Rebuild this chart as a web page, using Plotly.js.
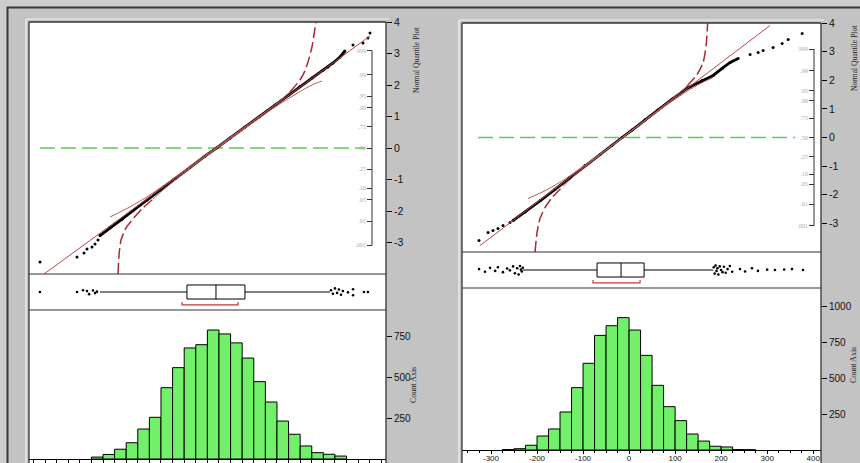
<!DOCTYPE html>
<html><head><meta charset="utf-8">
<script src="https://cdn.plot.ly/plotly-3.0.1.min.js"></script>
<style>html,body{margin:0;padding:0;background:#c3c3c3;}#chart{width:860px;height:463px;}</style>
</head><body><div id="chart"></div>
<script>
// ---------- LEFT PANEL DATA ----------
const leftBinCenters = [-52.5,-47.5,-42.5,-37.5,-32.5,-27.5,-22.5,-17.5,-12.5,-7.5,-2.5,2.5,7.5,12.5,17.5,22.5,27.5,32.5,37.5,42.5,47.5,52.5];
const leftCounts = [12,28,60,100,184,256,438,561,682,702,792,768,713,620,475,350,233,152,80,39,29,18];
const leftQQx = [-77.16,-61.21,-58.19,-56.90,-54.74,-53.45,-52.16,-51.29,-46.98,-41.81,-37.07,-31.03,-25.43,-18.97,-12.50,-6.03,-0.86,4.74,11.21,17.67,24.14,29.74,34.91,40.09,44.83,46.98,49.14,52.16,54.31,57.76,62.07,64.22,65.09];
const leftQQq = [-3.619,-3.460,-3.333,-3.206,-3.143,-3.048,-2.921,-2.78,-2.53,-2.26,-1.99,-1.65,-1.33,-0.97,-0.61,-0.26,0.01,0.32,0.67,1.01,1.36,1.67,1.95,2.22,2.47,2.571,2.698,2.889,3.079,3.270,3.333,3.492,3.651];
const leftFitX = [-75.4, 65.1];
const leftFitQ = [-4.0, 3.556];
const leftUpperBandX = [-46.98,-38.36,-29.74,-16.81,-1.29,13.36,24.14,30.60,34.91,37.07,38.36,40.09,41.38,41.81];
const leftUpperBandQ = [-2.19,-1.87,-1.49,-0.815,0.012,0.79,1.37,1.78,2.16,2.45,2.73,3.21,3.80,4.0];
const leftLowerBandX = [-43.53,-43.10,-42.24,-40.09,-37.07,-32.76,-28.45,-23.28,-12.50,-1.29,13.36,24.14,30.60,34.91,40.09,44.40];
const leftLowerBandQ = [-4.0,-3.397,-2.921,-2.540,-2.254,-1.90,-1.62,-1.28,-0.64,-0.03,0.74,1.30,1.60,1.79,2.00,2.127];
const leftRefX = [-77.2, 62.9];
const leftBox = {q1:-13.8, median:-1.3, q3:11.2, lo:-51.3, hi:47.8};
const leftShortestHalf = [-15.9, 8.2];
const leftOutX = [-77.2,-61.2,-58.6,-56.9,-56.0,-54.3,-53.4,-52.6,48.3,49.1,50.0,50.9,51.7,52.6,53.4,55.6,57.8,57.8,62.5,64.2];
const leftOutY = [0,0,0.1,0.05,-0.12,0.08,-0.06,0.02,0.1,-0.1,0.2,-0.05,0.14,-0.15,0.05,-0.02,0.15,-0.18,0,0];

// ---------- RIGHT PANEL DATA ----------
const rightBinCenters = [-262.5,-237.5,-212.5,-187.5,-162.5,-137.5,-112.5,-87.5,-62.5,-37.5,-12.5,12.5,37.5,62.5,87.5,112.5,137.5,162.5,187.5,212.5,237.5,262.5];
const rightCounts = [3,9,33,97,146,264,433,602,796,863,919,833,657,449,301,204,111,62,26,21,3,2];
const rightQQx = [-326.1,-306.5,-295.7,-284.8,-273.9,-258.7,-252.2,-226.1,-193.5,-160.9,-128.3,-95.7,-63.0,-37.0,-15.2,6.5,34.8,63.0,93.5,128.3,158.7,182.6,202.2,219.6,237.0,263.0,280.4,291.3,313.0,332.6,345.7,376.1];
const rightQQq = [-3.601,-3.322,-3.252,-3.182,-3.077,-2.972,-2.902,-2.60,-2.21,-1.81,-1.40,-0.98,-0.59,-0.27,0,0.26,0.62,0.97,1.34,1.74,1.993,2.168,2.413,2.622,2.762,2.902,2.972,3.042,3.147,3.287,3.427,3.636];
const rightFitX = [-323.9, 306.5];
const rightFitQ = [-3.776, 3.916];
const rightUpperBandX = [-219.6,-182.6,-143.5,-106.5,-63.0,-15.2,45.7,89.1,126.1,147.8,160.9,167.4,170.7];
const rightUpperBandQ = [-2.133,-1.86,-1.50,-1.09,-0.575,0.0,0.745,1.29,1.80,2.203,2.622,3.217,3.986];
const rightLowerBandX = [-204.3,-200.0,-193.5,-182.6,-167.4,-143.5,-106.5,-63.0,-15.2,45.7,89.1,126.1,154.3,182.6];
const rightLowerBandQ = [-4.0,-3.322,-2.832,-2.448,-2.098,-1.70,-1.16,-0.61,-0.02,0.72,1.22,1.62,1.88,2.098];
const rightRefX = [-328, 360.9];
const rightBox = {q1:-69.6, median:-17.4, q3:32.6, lo:-230.4, hi:182.6};
const rightShortestHalf = [-78.3, 23.9];
const rightOutX = [-326,-313,-302,-291,-285,-274,-265,-259,-252,-248,-243,-240,-237,-235,-233,-231,184,186,188,190,192,194,197,200,203,206,210,214,219,224,241,252,267,280,300,317,337,354,378];
const rightOutY = [0.05,-0.1,0.12,-0.05,0.15,-0.12,0.08,-0.02,0.2,-0.18,0.1,-0.25,0.22,0.02,-0.08,0.12,0.15,-0.2,0.25,-0.05,0.1,-0.25,0.2,0,-0.12,0.18,-0.15,0.05,0.22,-0.1,0.05,-0.08,0.1,-0.05,0.02,0,0.03,0.05,0];

// ---------- TICK LABELS ----------
const qqTickVals = [-3,-2,-1,0,1,2,3,4];
const qqTickText = ['-3','-2','-1','0','1','2','3','4'];
const probTickVals = [-3.09,-2.33,-1.64,-1.28,-0.67,0,0.67,1.28,1.64,2.33,3.09];
const probTickText = ['.001','.01','.05','.10','.25','.50','.75','.90','.95','.99','.999'];
const leftCountTicks = [250,500,750];
const rightCountTicks = [250,500,750,1000];
const rightXTickVals = [-300,-200,-100,0,100,200,300,400];
const rightXTickText = ['-300','-200','-100','0','100','200','300','400'];

// ---------- LAYOUT HELPERS ----------
const W = 860, H = 463;
const px = v => v / W;
const py = v => 1 - v / H;
const SANS = 'Liberation Sans, Arial, sans-serif';
const SERIF = 'Liberation Serif, Times New Roman, serif';
const RED = '#a82a36';
const THINRED = '#b85858';
const GREEN = '#5ccc5c';

function lineTrace(x, y, xa, ya, color, w, dash) {
  return {type:'scatter', mode:'lines', x:x, y:y, xaxis:xa, yaxis:ya,
    line:{color:color, width:w, dash:dash || 'solid', shape:'spline', smoothing:0.6}, hoverinfo:'skip'};
}

function panel(p) {
  const t = [];
  t.push({type:'scatter', mode:'lines', x:p.refX, y:[0,0], xaxis:p.xa, yaxis:p.ya,
    line:{color:GREEN, width:1.3, dash:'15px,6px'}, hoverinfo:'skip'});
  t.push({type:'scatter', mode:'lines', x:p.qqx.slice(p.d0,p.d1), y:p.qqq.slice(p.d0,p.d1), xaxis:p.xa, yaxis:p.ya,
    line:{color:'#000', width:2.8}, hoverinfo:'skip'});
  t.push({type:'scatter', mode:'markers', x:p.qqx, y:p.qqq, xaxis:p.xa, yaxis:p.ya,
    marker:{color:'#000', size:3}, hoverinfo:'skip'});
  t.push({type:'scatter', mode:'lines', x:p.fitX, y:p.fitQ, xaxis:p.xa, yaxis:p.ya,
    line:{color:'#b84848', width:1}, hoverinfo:'skip'});
  t.push(lineTrace(p.ubX.slice(0,p.ubS+1), p.ubQ.slice(0,p.ubS+1), p.xa, p.ya, THINRED, 1));
  t.push(lineTrace(p.ubX.slice(p.ubS), p.ubQ.slice(p.ubS), p.xa, p.ya, RED, 1.5, '11px,4px'));
  t.push(lineTrace(p.lbX.slice(0,p.lbS+1), p.lbQ.slice(0,p.lbS+1), p.xa, p.ya, RED, 1.5, '11px,4px'));
  t.push(lineTrace(p.lbX.slice(p.lbS), p.lbQ.slice(p.lbS), p.xa, p.ya, THINRED, 1));
  t.push({type:'scatter', mode:'markers', x:[p.refX[0]], y:[0], xaxis:p.xa, yaxis:p.yp,
    marker:{opacity:0}, hoverinfo:'skip'});
  t.push({type:'box', orientation:'h', y:[0], q1:[p.box.q1], median:[p.box.median], q3:[p.box.q3],
    lowerfence:[p.box.lo], upperfence:[p.box.hi], xaxis:p.xb, yaxis:p.yb, boxpoints:false,
    fillcolor:'#ffffff', line:{color:'#000', width:1}, whiskerwidth:0, width:0.78, hoverinfo:'skip'});
  t.push({type:'scatter', mode:'markers', x:p.outX, y:p.outY, xaxis:p.xb, yaxis:p.yb,
    marker:{color:'#000', size:2.6}, hoverinfo:'skip'});
  t.push({type:'scatter', mode:'lines', x:[p.sh[0],p.sh[0],p.sh[1],p.sh[1]], y:[-0.55,-0.72,-0.72,-0.55],
    xaxis:p.xb, yaxis:p.yb, line:{color:'#c03a3a', width:1.2}, hoverinfo:'skip'});
  t.push({type:'bar', x:p.bins, y:p.counts, width:p.bw, xaxis:p.xh, yaxis:p.yh,
    marker:{color:'#72f06a', line:{color:'#000', width:1}}, hoverinfo:'skip'});
  return t;
}

const traces = [].concat(
  panel({xa:'x', ya:'y', yp:'y7', xb:'x2', yb:'y2', xh:'x3', yh:'y3',
    refX:leftRefX, qqx:leftQQx, qqq:leftQQq, d0:7, d1:29, fitX:leftFitX, fitQ:leftFitQ,
    ubX:leftUpperBandX, ubQ:leftUpperBandQ, ubS:7, lbX:leftLowerBandX, lbQ:leftLowerBandQ, lbS:6,
    box:leftBox, outX:leftOutX, outY:leftOutY, sh:leftShortestHalf,
    bins:leftBinCenters, counts:leftCounts, bw:5}),
  panel({xa:'x4', ya:'y4', yp:'y8', xb:'x5', yb:'y5', xh:'x6', yh:'y6',
    refX:rightRefX, qqx:rightQQx, qqq:rightQQq, d0:6, d1:25, fitX:rightFitX, fitQ:rightFitQ,
    ubX:rightUpperBandX, ubQ:rightUpperBandQ, ubS:8, lbX:rightLowerBandX, lbQ:rightLowerBandQ, lbS:5,
    box:rightBox, outX:rightOutX, outY:rightOutY, sh:rightShortestHalf,
    bins:rightBinCenters, counts:rightCounts, bw:25})
);

const tickFont = {family:SANS, size:10.5, color:'#111'};
const hidden = {visible:false, showgrid:false, zeroline:false, fixedrange:true};
function qqY(domain, anchor) {
  return {domain:domain, range:[-4,4], anchor:anchor, side:'right', ticks:'outside', ticklen:5,
    tickcolor:'#000', tickwidth:1, tickvals:qqTickVals, ticktext:qqTickText, tickfont:tickFont,
    showgrid:false, zeroline:false, showline:false};
}
function probY(over, pos) {
  return {overlaying:over, anchor:'free', position:pos, side:'left', range:[-4,4], ticks:'outside',
    ticklen:5, tickcolor:'#333', tickwidth:1, tickvals:probTickVals, ticktext:probTickText,
    tickfont:{family:SERIF, size:5.8, color:'#a8a8a8'}, showgrid:false, zeroline:false, showline:false};
}
function cntY(domain, anchor, range, vals) {
  return {domain:domain, range:range, anchor:anchor, side:'right', ticks:'outside', ticklen:5,
    tickcolor:'#000', tickvals:vals, tickfont:{family:SANS, size:10, color:'#111'},
    showgrid:false, zeroline:false, showline:false};
}

const LX = [px(29), px(386)], RX = [px(462), px(821)];
const layout = {
  width:W, height:H, margin:{l:0,r:0,t:0,b:0}, showlegend:false,
  paper_bgcolor:'#c3c3c3', plot_bgcolor:'rgba(0,0,0,0)', bargap:0,
  xaxis: Object.assign({}, hidden, {domain:LX, range:[-81.9,72], anchor:'y'}),
  yaxis: qqY([py(274), py(22)], 'x'),
  yaxis7: probY('y', px(372)),
  xaxis2: Object.assign({}, hidden, {domain:LX, matches:'x', anchor:'y2'}),
  yaxis2: Object.assign({}, hidden, {domain:[py(310), py(274)], range:[-1,1], anchor:'x2'}),
  xaxis3: {domain:LX, matches:'x', anchor:'y3', showline:true, linecolor:'#000', linewidth:1,
    ticks:'outside', ticklen:5, tickcolor:'#000', tick0:0, dtick:20, showticklabels:false,
    minor:{ticks:'outside', ticklen:3, dtick:5, tick0:0, tickcolor:'#000'}, showgrid:false, zeroline:false},
  yaxis3: cntY([py(459), py(310)], 'x3', [0,915], leftCountTicks),
  xaxis4: Object.assign({}, hidden, {domain:RX, range:[-363,417], anchor:'y4'}),
  yaxis4: qqY([py(252), py(23)], 'x4'),
  yaxis8: probY('y4', px(814)),
  xaxis5: Object.assign({}, hidden, {domain:RX, matches:'x4', anchor:'y5'}),
  yaxis5: Object.assign({}, hidden, {domain:[py(288), py(252)], range:[-1,1], anchor:'x5'}),
  xaxis6: {domain:RX, matches:'x4', anchor:'y6', showline:true, linecolor:'#000', linewidth:1,
    ticks:'outside', ticklen:3, tickcolor:'#000', tickvals:rightXTickVals, ticktext:rightXTickText,
    ticklabelstandoff:-3,
    tickfont:{family:SANS, size:8, color:'#111'},
    minor:{ticks:'outside', ticklen:2, dtick:25, tick0:0, tickcolor:'#000'}, showgrid:false, zeroline:false},
  yaxis6: cntY([py(450), py(288)], 'x6', [0,1125], rightCountTicks),
  shapes: [],
  annotations: []
};

function pline(x0,y0,x1,y1,color,w,layer){
  layout.shapes.push({type:'line', xref:'paper', yref:'paper', x0:px(x0), y0:py(y0), x1:px(x1), y1:py(y1),
    line:{color:color, width:w}, layer:layer||'above'});
}
function prect(x0,y0,x1,y1,fill){
  layout.shapes.push({type:'rect', xref:'paper', yref:'paper', x0:px(x0), y0:py(y0), x1:px(x1), y1:py(y1),
    fillcolor:fill, line:{width:0}, layer:'below'});
}
prect(0,0,860,6,'#cdcdcd');
prect(0,0,6,463,'#cdcdcd');
pline(7,7.5,860,7.5,'#3a3a3a',2,'below');
pline(7.5,7,7.5,463,'#3a3a3a',2,'below');
[[29,386,22,274,310],[462,821,23,252,288]].forEach(f=>{
  const [x0,x1,y0,s1,s2] = f;
  prect(x0,y0,x1,463,'#ffffff');
  pline(x0-3,y0-3,x1+3,y0-3,'#f4f4f4',1.2,'below');
  pline(x0-3,y0-3,x0-3,463,'#f4f4f4',1.2,'below');
  pline(x0,y0,x1,y0,'#333',1.3);
  pline(x0,y0,x0,463,'#333',1.3);
  pline(x1,y0,x1,463,'#333',1.3);
  pline(x0,s1,x1,s1,'#333',1.2);
  pline(x0,s2,x1,s2,'#333',1.2);
});
layout.shapes.push({type:'line', xref:'paper', yref:'y', x0:px(372), x1:px(372), y0:-3.09, y1:3.09, line:{color:'#333', width:1}});
layout.shapes.push({type:'line', xref:'paper', yref:'y4', x0:px(814), x1:px(814), y0:-3.09, y1:3.09, line:{color:'#333', width:1}});

function ann(text, x, y, size, fam){
  layout.annotations.push({text:text, xref:'paper', yref:'paper', x:px(x), y:py(y), showarrow:false,
    textangle:-90, xanchor:'center', yanchor:'middle', font:{family:fam, size:size, color:'#222'}});
}
ann('Normal Quantile Plot', 417, 60, 7.6, SERIF);
ann('Normal Quantile Plot', 855, 58, 7.6, SERIF);
ann('Count Axis', 413, 385, 8, SERIF);
ann('Count Axis', 853, 365, 8, SERIF);

Plotly.newPlot('chart', traces, layout, {displayModeBar:false, staticPlot:true});
</script>
</body></html>
